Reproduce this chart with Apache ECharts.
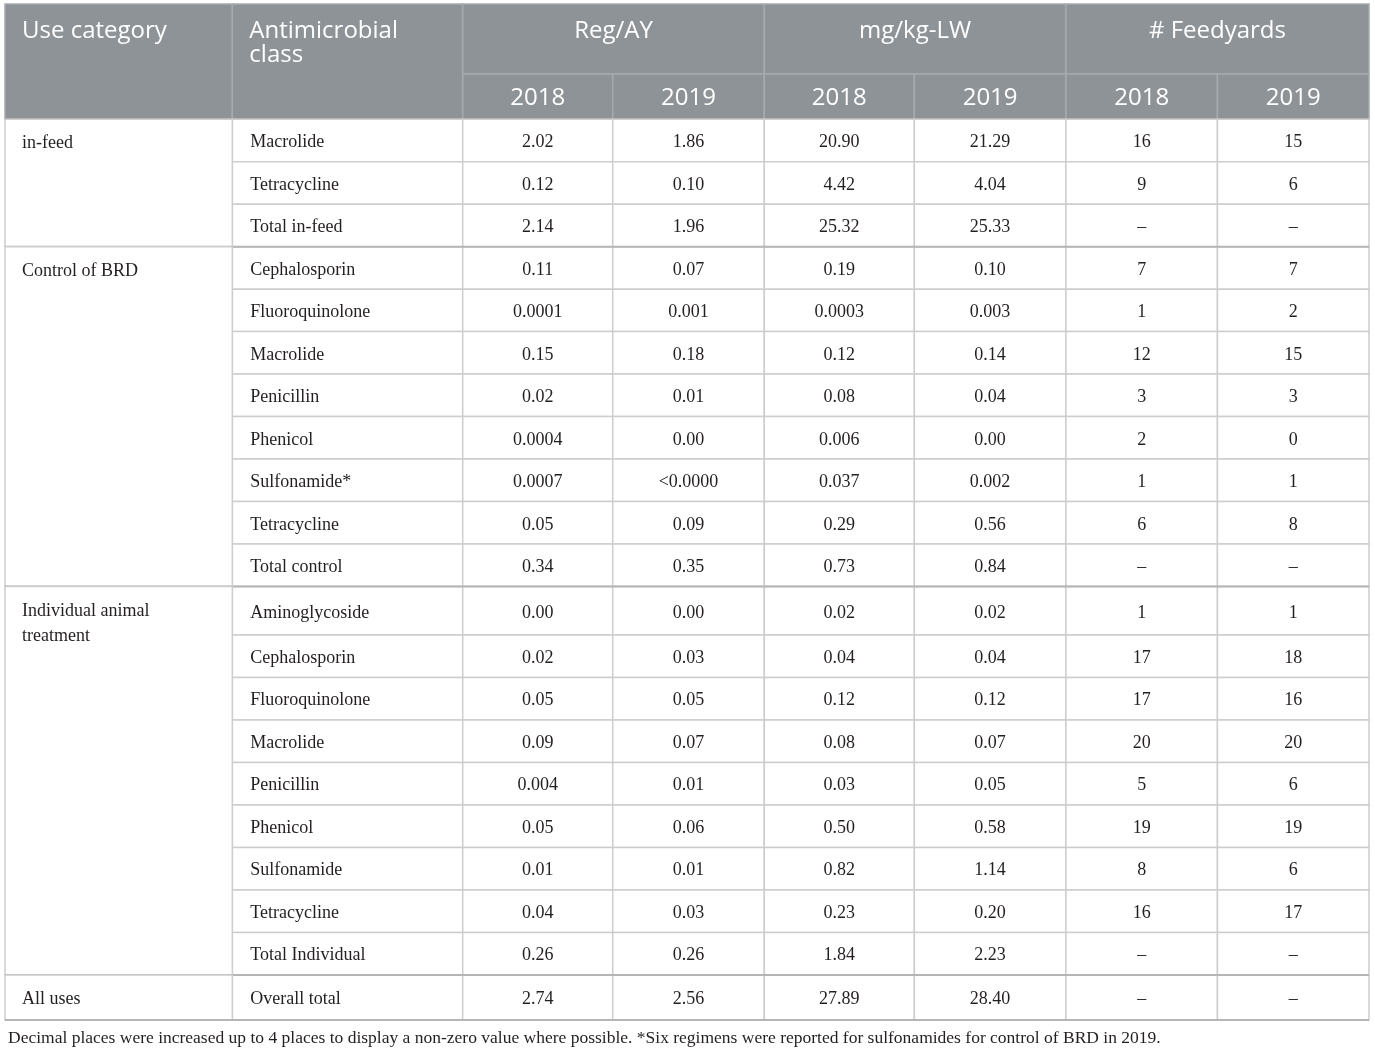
<!DOCTYPE html>
<html>
<head>
<meta charset="utf-8">
<title>Antimicrobial use by category</title>
<script src="https://cdn.jsdelivr.net/npm/echarts@6/dist/echarts.min.js"></script>
<style>
  html, body { margin: 0; padding: 0; background: #ffffff; }
  #chart { width: 1375px; height: 1050px; }
</style>
</head>
<body>
<div id="chart"></div>
<script>
// table content
var headerLeft = ['Use category', 'Antimicrobial\nclass'];
var headerGroups = ['Reg/AY', 'mg/kg-LW', '# Feedyards'];
var years = ['2018', '2019'];

var useCategory = ['in-feed', 'Control of BRD', 'Individual animal\ntreatment', 'All uses'];
var groupRows = [3, 8, 9, 1];

var antimicrobialClass = [
  'Macrolide', 'Tetracycline', 'Total in-feed',
  'Cephalosporin', 'Fluoroquinolone', 'Macrolide', 'Penicillin', 'Phenicol', 'Sulfonamide*', 'Tetracycline', 'Total control',
  'Aminoglycoside', 'Cephalosporin', 'Fluoroquinolone', 'Macrolide', 'Penicillin', 'Phenicol', 'Sulfonamide', 'Tetracycline', 'Total Individual',
  'Overall total'
];
var regAY2018 = ['2.02', '0.12', '2.14',
  '0.11', '0.0001', '0.15', '0.02', '0.0004', '0.0007', '0.05', '0.34',
  '0.00', '0.02', '0.05', '0.09', '0.004', '0.05', '0.01', '0.04', '0.26',
  '2.74'];
var regAY2019 = ['1.86', '0.10', '1.96',
  '0.07', '0.001', '0.18', '0.01', '0.00', '<0.0000', '0.09', '0.35',
  '0.00', '0.03', '0.05', '0.07', '0.01', '0.06', '0.01', '0.03', '0.26',
  '2.56'];
var mgkg2018 = ['20.90', '4.42', '25.32',
  '0.19', '0.0003', '0.12', '0.08', '0.006', '0.037', '0.29', '0.73',
  '0.02', '0.04', '0.12', '0.08', '0.03', '0.50', '0.82', '0.23', '1.84',
  '27.89'];
var mgkg2019 = ['21.29', '4.04', '25.33',
  '0.10', '0.003', '0.14', '0.04', '0.00', '0.002', '0.56', '0.84',
  '0.02', '0.04', '0.12', '0.07', '0.05', '0.58', '1.14', '0.20', '2.23',
  '28.40'];
var feedyards2018 = ['16', '9', '–',
  '7', '1', '12', '3', '2', '1', '6', '–',
  '1', '17', '17', '20', '5', '19', '8', '16', '–',
  '–'];
var feedyards2019 = ['15', '6', '–',
  '7', '2', '15', '3', '0', '1', '8', '–',
  '1', '18', '16', '20', '6', '19', '6', '17', '–',
  '–'];

var footnote = 'Decimal places were increased up to 4 places to display a non-zero value where possible. *Six regimens were reported for sulfonamides for control of BRD in 2019.';

// layout (axis units): column edges and row heights
var colEdge = [0, 1.5, 3.02, 4.01, 5.01, 6, 7, 8, 9];
var headUnits = [1.65, 1.06];

var valueCols = [regAY2018, regAY2019, mgkg2018, mgkg2019, feedyards2018, feedyards2019];

// row tops
var rowTop = [];
var yPos = headUnits[0] + headUnits[1];
for (var g = 0; g < groupRows.length; g++) {
  for (var r = 0; r < groupRows[g]; r++) {
    rowTop.push(yPos);
    var u = 1;
    if (r === 0 && useCategory[g].indexOf('\n') >= 0) u = 1.14;
    if (g === groupRows.length - 1) u = 1.06;
    yPos += u;
  }
}
rowTop.push(yPos);
var yMax = yPos;

var cellData = [];
var cellText = [];
var cellKind = [];
function addCell(x0, x1, y0, y1, text, kind) {
  cellData.push([x0, x1, y0, y1]);
  cellText.push(text);
  cellKind.push(kind);
}

// header
var hTop = 0, hMid = headUnits[0], hBot = headUnits[0] + headUnits[1];
addCell(colEdge[0], colEdge[1], hTop, hBot, headerLeft[0], 'hl');
addCell(colEdge[1], colEdge[2], hTop, hBot, headerLeft[1], 'hl');
for (var k = 0; k < headerGroups.length; k++) {
  var c = 2 + k * 2;
  addCell(colEdge[c], colEdge[c + 2], hTop, hMid, headerGroups[k], 'hc');
  addCell(colEdge[c], colEdge[c + 1], hMid, hBot, years[0], 'hy');
  addCell(colEdge[c + 1], colEdge[c + 2], hMid, hBot, years[1], 'hy');
}

// body
for (var i = 0; i < antimicrobialClass.length; i++) {
  addCell(colEdge[1], colEdge[2], rowTop[i], rowTop[i + 1], antimicrobialClass[i], 'bl');
  for (var j = 0; j < valueCols.length; j++) {
    addCell(colEdge[2 + j], colEdge[3 + j], rowTop[i], rowTop[i + 1], valueCols[j][i], 'bc');
  }
}
var start = 0;
for (var g2 = 0; g2 < useCategory.length; g2++) {
  addCell(colEdge[0], colEdge[1], rowTop[start], rowTop[start + groupRows[g2]], useCategory[g2], 'bu');
  // group rule across the whole table
  addCell(colEdge[0], colEdge[8], rowTop[start + groupRows[g2]], rowTop[start + groupRows[g2]], '', 'rule');
  start += groupRows[g2];
}

var HEAD_FONT = '"Open Sans", "Noto Sans", sans-serif';
var BODY_FONT = '"Liberation Serif", "DejaVu Serif", serif';

function renderCell(params, api) {
  var i = params.dataIndex;
  var p0 = api.coord([api.value(0), api.value(2)]);
  var p1 = api.coord([api.value(1), api.value(3)]);
  var x = p0[0], y = p0[1], w = p1[0] - p0[0], h = p1[1] - p0[1];
  var kind = cellKind[i];
  var text = cellText[i];

  if (kind === 'rule') {
    return {
      type: 'line',
      shape: { x1: x, y1: y, x2: x + w, y2: y },
      style: { stroke: '#b5b5b5', lineWidth: 2 }
    };
  }

  var isHead = kind.charAt(0) === 'h';
  var rect = {
    type: 'rect',
    shape: { x: x, y: y, width: w, height: h },
    style: {
      fill: isHead ? '#8e9397' : '#ffffff',
      stroke: isHead ? '#a7abae' : '#cdcdcd',
      lineWidth: 1.5
    }
  };
  var ts = {
    text: text,
    fill: isHead ? '#ffffff' : '#231f20',
    fontFamily: isHead ? HEAD_FONT : BODY_FONT,
    fontSize: isHead ? 24 : 18,
    lineHeight: isHead ? 24 : 25
  };
  if (kind === 'hl') {
    ts.x = x + 17; ts.y = y + 15; ts.align = 'left'; ts.verticalAlign = 'top';
  } else if (kind === 'hc') {
    ts.x = x + w / 2; ts.y = y + 15; ts.align = 'center'; ts.verticalAlign = 'top';
  } else if (kind === 'hy') {
    ts.x = x + w / 2; ts.y = y + h / 2 + 2; ts.align = 'center'; ts.verticalAlign = 'middle';
  } else if (kind === 'bu') {
    ts.x = x + 17; ts.y = y + 12; ts.align = 'left'; ts.verticalAlign = 'top';
  } else if (kind === 'bl') {
    ts.x = x + 18; ts.y = y + h / 2 + 2; ts.align = 'left'; ts.verticalAlign = 'middle';
  } else {
    ts.x = x + w / 2; ts.y = y + h / 2 + 2; ts.align = 'center'; ts.verticalAlign = 'middle';
  }
  return {
    type: 'group',
    children: [rect, { type: 'text', style: ts }]
  };
}

var chart = echarts.init(document.getElementById('chart'), null, { renderer: 'canvas' });
chart.setOption({
  backgroundColor: '#ffffff',
  animation: false,
  title: {
    text: footnote,
    left: 3,
    top: 1024,
    textStyle: {
      fontFamily: BODY_FONT,
      fontSize: 17.5,
      fontWeight: 'normal',
      color: '#231f20'
    }
  },
  grid: { left: 5, top: 4, width: 1364, height: Math.round(yMax * 42.5) },
  xAxis: { type: 'value', min: 0, max: 9, show: false },
  yAxis: { type: 'value', min: 0, max: yMax, inverse: true, show: false },
  series: [{
    type: 'custom',
    coordinateSystem: 'cartesian2d',
    clip: false,
    silent: true,
    renderItem: renderCell,
    encode: { x: [0, 1], y: [2, 3] },
    data: cellData
  }]
});
</script>
</body>
</html>
